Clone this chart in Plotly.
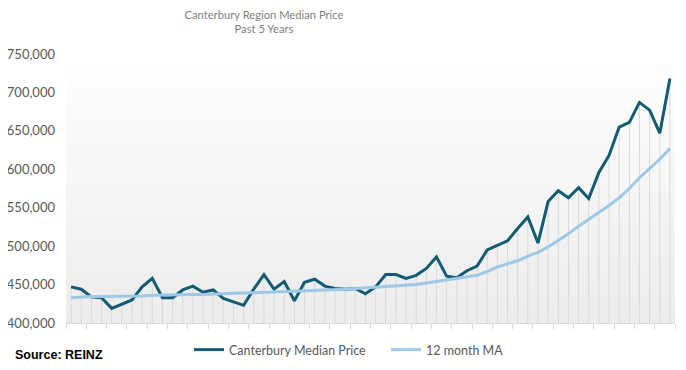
import plotly.graph_objects as go

months = ["Jan", "Feb", "Mar", "Apr", "May", "Jun", "Jul", "Aug", "Sep", "Oct", "Nov", "Dec"]
categories = [f"{m} {y}" for y in range(2017, 2022) for m in months]

median_price = [447000, 444000, 434000, 433000, 419000, 425000, 430000, 447000, 458000, 433000,
                433000, 443000, 448000, 440000, 443000, 432000, 428000, 423000, 444000, 463000,
                444000, 454000, 429000, 453000, 457000, 448000, 445000, 444000, 445000, 438000,
                447000, 463000, 463000, 458000, 462000, 471000, 486000, 461000, 459000, 468000,
                474000, 495000, 501000, 507000, 523000, 538000, 504000, 558000, 572000, 563000,
                576000, 562000, 596000, 618000, 655000, 661000, 687000, 677000, 647000, 718000]

ma_12 = [433000, 434000, 434500, 434500, 434500, 434500, 434500, 435000, 436000, 436500,
         436500, 437000, 437000, 437000, 437500, 438000, 438500, 438500, 439000, 440000,
         440500, 441000, 441000, 441500, 442000, 443000, 443500, 444000, 445000, 446000,
         446500, 447500, 448000, 449000, 450000, 452000, 454000, 456000, 458000, 459500,
         462000, 467000, 473000, 477000, 481000, 487000, 492000, 499000, 507000, 516000,
         526000, 535000, 543000, 553000, 563000, 575000, 589000, 601000, 613000, 627000]

y_min = 400000
y_max = 750000
y_ticks = [400000, 450000, 500000, 550000, 600000, 650000, 700000, 750000]

fig = go.Figure()

# drop lines from each median point to the axis
fig.add_trace(go.Scatter(
    x=categories, y=median_price, mode="markers",
    marker=dict(size=1, opacity=0),
    error_y=dict(type="data", symmetric=False,
                 array=[0] * len(median_price),
                 arrayminus=[v - y_min for v in median_price],
                 color="#d9d9d9", thickness=1, width=0),
    showlegend=False, hoverinfo="skip"))

fig.add_trace(go.Scatter(
    x=categories, y=median_price, mode="lines", name="Canterbury Median Price",
    line=dict(color="#135b73", width=3)))

fig.add_trace(go.Scatter(
    x=categories, y=ma_12, mode="lines", name="12 month MA",
    line=dict(color="#9dc8e6", width=3)))

# vertical gradient background in the plot area
n = 40
shapes = []
for k in range(n):
    t = k / n
    g = int(round(255 - (255 - 236) * (1 - t)))
    shapes.append(dict(type="rect", xref="paper", yref="paper",
                       x0=0, x1=1, y0=t, y1=t + 1 / n + 0.002,
                       fillcolor=f"rgb({g},{g},{g})", line=dict(width=0),
                       layer="below"))

W, H = 678, 362
PH = H - 46 - 47

fig.update_layout(
    width=W, height=H,
    margin=dict(l=58, r=11, t=46, b=47, autoexpand=False),
    paper_bgcolor="white", plot_bgcolor="white",
    font=dict(family="Lato, sans-serif", color="#595959", size=13),
    title=dict(text="Canterbury Region Median Price<br>Past 5 Years",
               xref="container", x=256 / W, xanchor="center",
               yref="container", y=0.970, yanchor="top",
               font=dict(size=11.2, color="#7f7f7f")),
    shapes=shapes,
    showlegend=True,
    legend=dict(orientation="h", x=(189 - 66) / 609, xanchor="left",
                y=-12 / PH, yanchor="top",
                font=dict(size=12.5, color="#595959"), bgcolor="rgba(0,0,0,0)",
                itemwidth=30, entrywidth=152, entrywidthmode="pixels"),
    annotations=[dict(text="<b>Source: REINZ</b>", xref="paper", yref="paper",
                      x=-53 / 609, xanchor="left", y=-22.5 / PH, yanchor="top",
                      showarrow=False,
                      font=dict(family="Arial Black, Liberation Sans, sans-serif",
                                size=12.5, color="#000000"))],
)

fig.update_xaxes(type="category", showticklabels=False, showgrid=False,
                 showline=True, linecolor="#d9d9d9", linewidth=1,
                 ticks="outside", ticklen=5, tickcolor="#d9d9d9",
                 tickson="boundaries", range=[-0.5, len(categories) - 0.5])
fig.update_yaxes(range=[y_min, y_max], tickvals=y_ticks, tickformat=",",
                 showgrid=False, zeroline=False, showline=False, automargin=False,
                 ticks="", ticklabelstandoff=10)

fig.write_html("out.html")
